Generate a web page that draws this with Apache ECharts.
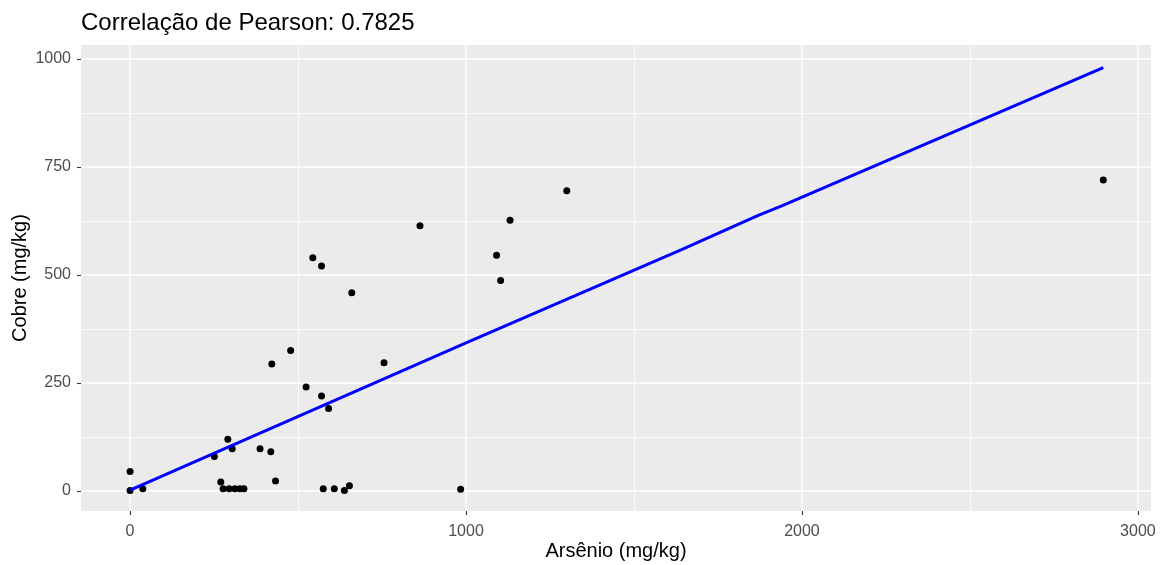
<!DOCTYPE html>
<html>
<head>
<meta charset="utf-8">
<script src="https://cdn.jsdelivr.net/npm/echarts@6/dist/echarts.min.js"></script>
<style>
  html, body { margin: 0; padding: 0; background: #ffffff; }
  #chart { width: 1165px; height: 565px; }
</style>
</head>
<body>
<div id="chart"></div>
<script>
// Arsenic (x) vs copper (y) concentrations, mg/kg
const arsenio = [0, 0, 38, 251, 270, 277, 295, 312, 327, 339, 291, 304, 387, 419, 433,
  422, 478, 524, 544, 570, 570, 591, 660, 575, 608, 638, 653, 756, 863, 984,
  1091, 1103, 1131, 1300, 2897];
const cobre = [45, 1, 5, 80, 21, 5, 5, 5, 5, 5, 120, 98, 98, 91, 23,
  294, 325, 241, 540, 521, 220, 191, 459, 5, 5, 1, 12, 297, 614, 4,
  546, 487, 627, 695, 720];

// Fitted trend line
const ajusteX = [0, 1000, 1640, 1870, 1940, 2897];
const ajusteY = [2, 343, 558, 638, 660, 980];

// Axis ticks and grid lines
const xTicks = [0, 1000, 2000, 3000];
const yTicks = [0, 250, 500, 750, 1000];
const xMinor = [500, 1500, 2500];
const yMinor = [125, 375, 625, 875];

const titulo = 'Correlação de Pearson: 0.7825';
const FONT = '"Liberation Sans", Arial, sans-serif';

const pontos = arsenio.map((x, i) => [x, cobre[i]]);
const linha = ajusteX.map((x, i) => [x, ajusteY[i]]);

const gridLines = [
  ...xMinor.map(v => ({ xAxis: v, lineStyle: { width: 0.8 } })),
  ...yMinor.map(v => ({ yAxis: v, lineStyle: { width: 0.8 } })),
  ...xTicks.map(v => ({ xAxis: v, lineStyle: { width: 1.5 } })),
  ...yTicks.map(v => ({ yAxis: v, lineStyle: { width: 1.5 } }))
];

const plain = v => String(v);

const chart = echarts.init(document.getElementById('chart'), null, { renderer: 'canvas' });
chart.setOption({
  animation: false,
  backgroundColor: '#ffffff',
  textStyle: { fontFamily: FONT },
  title: {
    text: titulo,
    left: 81,
    top: 11,
    padding: 0,
    textStyle: { fontFamily: FONT, fontSize: 24, fontWeight: 'normal', color: '#000000' }
  },
  grid: {
    left: 81, right: 14, top: 45, bottom: 54,
    outerBoundsMode: 'none',
    containLabel: false,
    show: true, backgroundColor: '#EBEBEB', borderWidth: 0
  },
  xAxis: {
    type: 'value',
    min: -146, max: 3039,
    name: 'Arsênio (mg/kg)',
    nameLocation: 'middle',
    nameGap: 30,
    nameMoveOverlap: false,
    nameTextStyle: { fontFamily: FONT, fontSize: 20, color: '#000000' },
    axisLine: { show: false, onZero: false },
    axisTick: { show: true, length: 4, customValues: xTicks, lineStyle: { color: '#333333', width: 1.1 } },
    axisLabel: { customValues: xTicks, formatter: plain, margin: 13, fontFamily: FONT, fontSize: 16, color: '#4D4D4D' },
    splitLine: { show: false }
  },
  yAxis: {
    type: 'value',
    min: -46.3, max: 1032.4,
    name: 'Cobre (mg/kg)',
    nameLocation: 'middle',
    nameGap: 51,
    nameMoveOverlap: false,
    nameTextStyle: { fontFamily: FONT, fontSize: 20, color: '#000000' },
    axisLine: { show: false, onZero: false },
    axisTick: { show: true, length: 4, customValues: yTicks, lineStyle: { color: '#333333', width: 1.1 } },
    axisLabel: { customValues: yTicks, formatter: plain, margin: 10, fontFamily: FONT, fontSize: 16, color: '#4D4D4D' },
    splitLine: { show: false }
  },
  series: [
    {
      name: 'grade',
      type: 'scatter',
      data: [],
      z: 1,
      silent: true,
      markLine: {
        z: 1,
        silent: true,
        symbol: ['none', 'none'],
        label: { show: false },
        lineStyle: { color: '#ffffff', type: 'solid' },
        emphasis: { disabled: true },
        data: gridLines
      }
    },
    {
      name: 'amostras',
      type: 'scatter',
      data: pontos,
      symbol: 'circle',
      symbolSize: 7,
      z: 3,
      itemStyle: { color: '#000000', opacity: 1 }
    },
    {
      name: 'ajuste',
      type: 'line',
      data: linha,
      showSymbol: false,
      symbol: 'none',
      z: 4,
      lineStyle: { color: '#0000FF', width: 3 }
    }
  ]
});
</script>
</body>
</html>
